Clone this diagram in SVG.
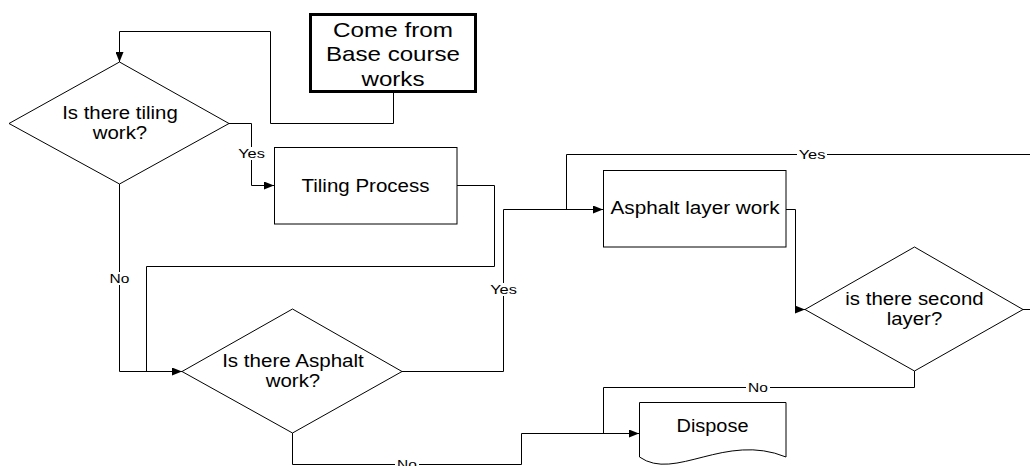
<svg xmlns="http://www.w3.org/2000/svg" width="1030" height="466" viewBox="0 0 1030 466">
  <style>
    .shape { fill: #fff; stroke: #000; stroke-width: 1; }
    .start { fill: #fff; stroke: #000; stroke-width: 3; }
    .wire { fill: none; stroke: #000; stroke-width: 1; }
    .node-text { font-family: "Liberation Sans", Arial, sans-serif; font-size: 17.5px; fill: #000; text-anchor: middle; }
    .big-text { font-family: "Liberation Sans", Arial, sans-serif; font-size: 21px; fill: #000; text-anchor: middle; }
    .label { font-family: "Liberation Sans", Arial, sans-serif; font-size: 13px; fill: #000; text-anchor: middle; }
    .label-bg { fill: #fff; stroke: none; }
  </style>
  <defs>
    <marker id="arrow" viewBox="0 0 10 8" refX="10" refY="4" markerWidth="10" markerHeight="8" markerUnits="userSpaceOnUse" orient="auto">
      <path d="M0,0 L10,4 L0,8 Z" fill="#000"/>
    </marker>
  </defs>

  <rect width="1030" height="466" fill="#fff"/>

  <!-- connectors -->
  <g id="connectors">
    <!-- start box to first decision -->
    <path class="wire" d="M393.5,92 V123.5 H270.5 V31.5 H119.5 V62" marker-end="url(#arrow)"/>
    <!-- tiling: yes -->
    <path class="wire" d="M229,123.5 H251.5 V185.5 H274" marker-end="url(#arrow)"/>
    <!-- tiling: no -->
    <path class="wire" d="M119.5,184 V371.5 H182" marker-end="url(#arrow)"/>
    <!-- tiling process output -->
    <path class="wire" d="M457,185.5 H494.5 V266.5 H146.5 V371.5"/>
    <!-- asphalt: yes -->
    <path class="wire" d="M402,371.5 H503.5 V209.5 H603" marker-end="url(#arrow)"/>
    <!-- second layer: yes (loops back over the top) -->
    <path class="wire" d="M1023,309.5 H1045 V154.5 H566.5 V209.5"/>
    <!-- asphalt layer work to second layer decision -->
    <path class="wire" d="M786,209.5 H795.5 V309.5 H805" marker-end="url(#arrow)"/>
    <!-- asphalt: no -->
    <path class="wire" d="M292.5,433 V464.5 H521.5 V433.5 H639" marker-end="url(#arrow)"/>
    <!-- second layer: no -->
    <path class="wire" d="M914.5,371 V387.5 H603.5 V433.5"/>

    <!-- connector labels -->
    <rect class="label-bg" x="237" y="147" width="28" height="13"/>
    <text class="label" x="251.5" y="158" textLength="26.7" lengthAdjust="spacingAndGlyphs">Yes</text>
    <rect class="label-bg" x="108" y="272" width="23" height="13"/>
    <text class="label" x="119.5" y="282.5" textLength="19.8" lengthAdjust="spacingAndGlyphs">No</text>
    <rect class="label-bg" x="489" y="283" width="29" height="13"/>
    <text class="label" x="503.5" y="293.5" textLength="26.7" lengthAdjust="spacingAndGlyphs">Yes</text>
    <rect class="label-bg" x="797" y="148" width="30" height="13"/>
    <text class="label" x="812" y="158.8" textLength="26.7" lengthAdjust="spacingAndGlyphs">Yes</text>
    <rect class="label-bg" x="746" y="381" width="24" height="13"/>
    <text class="label" x="758" y="391.8" textLength="19.8" lengthAdjust="spacingAndGlyphs">No</text>
    <rect class="label-bg" x="395" y="458" width="24" height="13"/>
    <text class="label" x="407" y="468.8" textLength="19.8" lengthAdjust="spacingAndGlyphs">No</text>
  </g>

  <!-- start -->
  <g id="start">
    <rect class="start" x="310.5" y="14.5" width="165" height="77"/>
    <text class="big-text" x="393" y="36.5" textLength="120" lengthAdjust="spacingAndGlyphs">Come from</text>
    <text class="big-text" x="393" y="61" textLength="134" lengthAdjust="spacingAndGlyphs">Base course</text>
    <text class="big-text" x="393" y="85.5" textLength="63" lengthAdjust="spacingAndGlyphs">works</text>
  </g>

  <!-- decision: tiling -->
  <g id="tiling-decision">
    <polygon class="shape" points="119.5,62 229,123.5 119.5,184 9,123.5"/>
    <text class="node-text" x="120" y="119" textLength="115.6" lengthAdjust="spacingAndGlyphs">Is there tiling</text>
    <text class="node-text" x="120" y="138.5" textLength="54.4" lengthAdjust="spacingAndGlyphs">work?</text>
  </g>

  <!-- tiling process -->
  <g id="tiling-process">
    <rect class="shape" x="274.5" y="147.5" width="182.5" height="76.5"/>
    <text class="node-text" x="365.5" y="191.5" textLength="128" lengthAdjust="spacingAndGlyphs">Tiling Process</text>
  </g>

  <!-- decision: asphalt -->
  <g id="asphalt-decision">
    <polygon class="shape" points="292.5,309 402,371.5 292.5,433 182,371.5"/>
    <text class="node-text" x="293" y="367.3" textLength="141.7" lengthAdjust="spacingAndGlyphs">Is there Asphalt</text>
    <text class="node-text" x="293" y="387" textLength="54.4" lengthAdjust="spacingAndGlyphs">work?</text>
  </g>

  <!-- asphalt layer work -->
  <g id="asphalt-layer-work">
    <rect class="shape" x="603.5" y="170.5" width="182.5" height="76.5"/>
    <text class="node-text" x="695" y="214" textLength="169" lengthAdjust="spacingAndGlyphs">Asphalt layer work</text>
  </g>

  <!-- decision: second layer -->
  <g id="second-layer-decision">
    <polygon class="shape" points="914.5,247 1023,309.5 914.5,371 805,309.5"/>
    <text class="node-text" x="914.5" y="305" textLength="138.3" lengthAdjust="spacingAndGlyphs">is there second</text>
    <text class="node-text" x="914.5" y="325" textLength="55.5" lengthAdjust="spacingAndGlyphs">layer?</text>
  </g>

  <!-- dispose (document shape) -->
  <g id="dispose">
    <path class="shape" d="M639.5,402.5 H786 V457 C725,432 675,482 639.5,457 Z"/>
    <text class="node-text" x="712.5" y="432" textLength="72" lengthAdjust="spacingAndGlyphs">Dispose</text>
  </g>
</svg>
